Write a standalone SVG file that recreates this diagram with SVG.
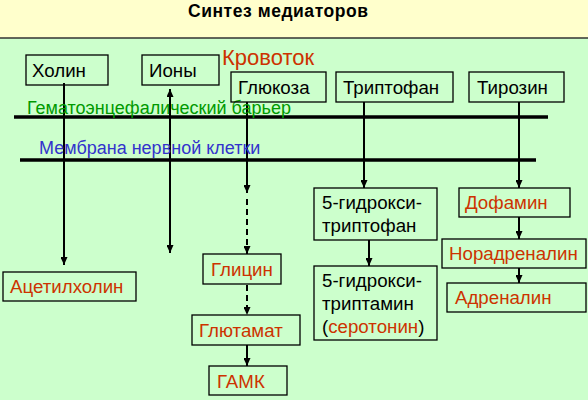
<svg xmlns="http://www.w3.org/2000/svg" width="588" height="400" viewBox="0 0 588 400">
<defs>
<marker id="ah" markerWidth="8" markerHeight="7" refX="8" refY="3.5" orient="auto-start-reverse" markerUnits="userSpaceOnUse"><path d="M0,0 L8,3.5 L0,7 z" fill="#000"/></marker>
<style>
text{font-family:"Liberation Sans",Arial,sans-serif;font-size:18.7px}
.lbl{font-size:18px}
.box{fill:none;stroke:#000;stroke-width:1.3}
.red{fill:#CC3300}
.blk{fill:#000}
.con{stroke:#000;stroke-width:2;fill:none}
.dash{stroke-dasharray:6,4}
.bar{stroke:#000;stroke-width:3.5}
</style>
</defs>
<rect x="0" y="0" width="588" height="38" fill="#FFFFCC"/>
<rect x="0" y="38" width="588" height="362" fill="#CCFFCC"/>
<line x1="0" y1="38" x2="588" y2="38" stroke="#333" stroke-width="1.5"/>
<text x="278" y="17" text-anchor="middle" textLength="180" style="font-weight:bold;font-size:17.5px">Синтез медиаторов</text>
<text x="222" y="65" class="red" style="font-size:22px">Кровоток</text>
<g id="connectors">
<line class="bar" x1="14" y1="117" x2="548" y2="117"/>
<line class="bar" x1="20" y1="160" x2="536" y2="160"/>
<line class="con" x1="64" y1="83" x2="64" y2="265" marker-end="url(#ah)"/>
<line class="con" x1="170" y1="89" x2="170" y2="253" marker-start="url(#ah)" marker-end="url(#ah)"/>
<line class="con" x1="247" y1="102" x2="247" y2="193" marker-end="url(#ah)"/>
<line class="con dash" x1="247" y1="199" x2="247" y2="254" marker-end="url(#ah)"/>
<line class="con dash" x1="247" y1="285" x2="247" y2="315" marker-end="url(#ah)"/>
<line class="con" x1="247" y1="345" x2="247" y2="366" marker-end="url(#ah)"/>
<line class="con" x1="364" y1="102" x2="364" y2="188" marker-end="url(#ah)"/>
<line class="con" x1="369" y1="240" x2="369" y2="266" marker-end="url(#ah)"/>
<line class="con" x1="519" y1="102" x2="519" y2="188" marker-end="url(#ah)"/>
<line class="con" x1="519" y1="217" x2="519" y2="239" marker-end="url(#ah)"/>
<line class="con" x1="519" y1="268" x2="519" y2="283" marker-end="url(#ah)"/>
</g>
<text x="27" y="114" class="lbl" fill="#009900">Гематоэнцефалический барьер</text>
<text x="39" y="154" class="lbl" fill="#3333CC">Мембрана нервной клетки</text>
<g id="holin"><rect class="box" x="26" y="55" width="82" height="30"/><text x="32" y="77" class="blk">Холин</text></g>
<g id="iony"><rect class="box" x="142" y="55" width="77" height="30"/><text x="149" y="77" class="blk">Ионы</text></g>
<g id="glukoza"><rect class="box" x="231" y="72" width="95" height="30"/><text x="238" y="94" class="blk">Глюкоза</text></g>
<g id="triptofan"><rect class="box" x="336" y="72" width="117" height="30"/><text x="343" y="94" class="blk">Триптофан</text></g>
<g id="tirozin"><rect class="box" x="469" y="72" width="95" height="30"/><text x="477" y="94" class="blk">Тирозин</text></g>
<g id="acetilholin"><rect class="box" x="3" y="272" width="133" height="29"/><text x="10" y="293" class="red">Ацетилхолин</text></g>
<g id="glicin"><rect class="box" x="203" y="254" width="78" height="30"/><text x="211" y="276" class="red">Глицин</text></g>
<g id="glutamat"><rect class="box" x="192" y="315" width="108" height="30"/><text x="199" y="337" class="red">Глютамат</text></g>
<g id="gamk"><rect class="box" x="209" y="366" width="78" height="29"/><text x="217" y="388" class="red">ГАМК</text></g>
<g id="hydroxytryptophan"><rect class="box" x="314" y="188" width="123" height="52"/><text x="322" y="209" class="blk">5-гидрокси-</text><text x="322" y="232" class="blk">триптофан</text></g>
<g id="serotonin"><rect class="box" x="314" y="266" width="123" height="74"/><text x="322" y="287" class="blk">5-гидрокси-</text><text x="322" y="310" class="blk">триптамин</text><text x="322" y="333" class="blk">(<tspan class="red">серотонин</tspan>)</text></g>
<g id="dofamin"><rect class="box" x="459" y="188" width="111" height="29"/><text x="465" y="209" class="red">Дофамин</text></g>
<g id="noradrenalin"><rect class="box" x="442" y="239" width="144" height="29"/><text x="449" y="260" class="red">Норадреналин</text></g>
<g id="adrenalin"><rect class="box" x="447" y="283" width="139" height="29"/><text x="455" y="304" class="red">Адреналин</text></g>
</svg>
